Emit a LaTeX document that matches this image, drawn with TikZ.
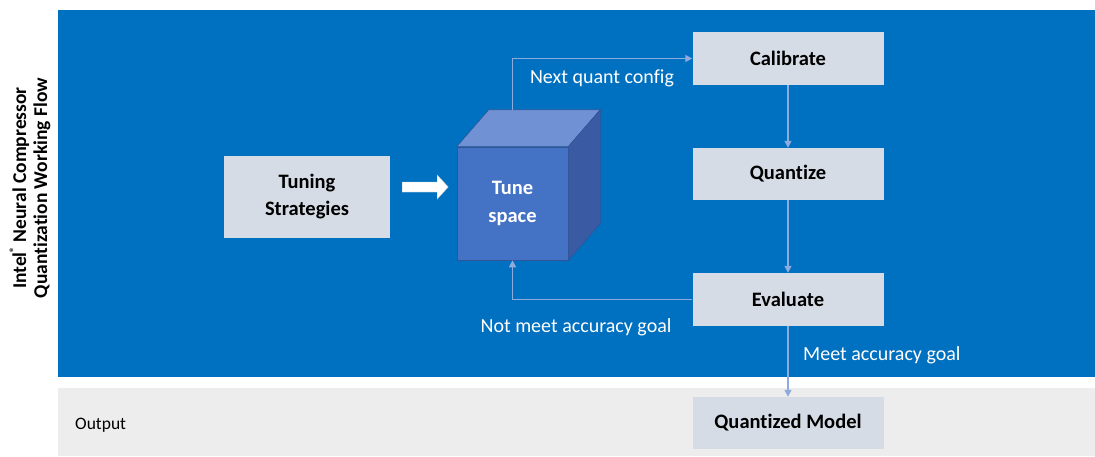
\documentclass[tikz,border=0pt]{standalone}
\usepackage{fontspec}
\setmainfont[Ligatures=NoCommon]{Carlito}
\usetikzlibrary{arrows.meta}

\definecolor{panelblue}{HTML}{0070C0}
\definecolor{outgray}{HTML}{EDEDED}
\definecolor{boxfill}{HTML}{D6DCE5}
\definecolor{linkblue}{HTML}{8FAADC}
\definecolor{cubefront}{HTML}{4472C4}
\definecolor{cubetop}{HTML}{7092D4}
\definecolor{cubeside}{HTML}{3A5BA3}
\definecolor{cubeedge}{HTML}{2F5597}

\tikzset{
  stepbox/.style={draw=none, fill=boxfill, inner sep=0pt, align=center,
    font=\fontsize{20.5}{27}\selectfont\bfseries, text=black},
  link/.style={draw=linkblue, line width=1.5pt,
    -{Triangle[length=7pt,width=7pt]}},
  linklabel/.style={font=\fontsize{20}{24}\selectfont, text=white, inner sep=0pt},
}

\begin{document}
\begin{tikzpicture}[x=1pt, y=-1pt]
  \useasboundingbox (0,0) rectangle (1095,456);

  % background bands
  \fill[panelblue] (58,10) rectangle (1095,377);
  \fill[outgray] (58,388) rectangle (1095,456);

  % side title
  \node[rotate=90, align=center, inner sep=0pt,
        font=\fontsize{19.5}{21}\selectfont\bfseries] (title) at (30,188)
    {Intel\raisebox{0.45em}{\fontsize{11}{11}\selectfont\textregistered} Neural Compressor\\Quantization Working Flow};

  % output band label
  \node[anchor=west, inner sep=0pt, font=\fontsize{17.5}{21}\selectfont] (outlbl) at (75,425) {Output};

  % boxes
  \node[stepbox, minimum width=166, minimum height=82] (tuning) at (307,197) {Tuning\\Strategies};
  \node[stepbox, minimum width=191, minimum height=53] (calib) at (788,58.5) {Calibrate};
  \node[stepbox, minimum width=191, minimum height=52] (quant) at (788,174) {Quantize};
  \node[stepbox, minimum width=191, minimum height=53] (eval) at (788,299.5) {Evaluate};
  \node[stepbox, minimum width=191, minimum height=52] (qmodel) at (788,423) {Quantized Model};

  % tune space cube
  \node[fill=cubefront, draw=cubeedge, line width=0.6pt, minimum width=111, minimum height=113,
        inner sep=0pt, align=center, text=white,
        font=\fontsize{20.5}{28}\selectfont\bfseries] (cube) at (512.5,203.5) {Tune\\space};
  \filldraw[fill=cubetop, draw=cubeedge, line width=0.6pt, line join=round]
    (cube.north west) -- ++(32,-37) -- ([shift={(32,-37)}]cube.north east)
    -- (cube.north east) -- cycle;
  \filldraw[fill=cubeside, draw=cubeedge, line width=0.6pt, line join=round]
    (cube.north east) -- ([shift={(32,-37)}]cube.north east)
    -- ([shift={(32,-37)}]cube.south east) -- (cube.south east) -- cycle;
  \coordinate (cubeback) at ([yshift=37pt]cube.north);

  % strategy feed arrow
  \fill[white, draw=gray!40, line width=0.4pt]
    ([xshift=12pt,yshift=5pt]tuning.east) -- ++(35,0) -- ++(0,7) -- ++(11,-12)
    -- ++(-11,-12) -- ++(0,7) -- ++(-35,0) -- cycle;

  % connectors
  \draw[link] (cubeback) |- (calib.west);
  \draw[link] (calib.south) -- (quant.north);
  \draw[link] (quant.south) -- (eval.north);
  \draw[link] (eval.west) -| (cube.south);
  \draw[link] (eval.south) -- (qmodel.north);

  % connector labels
  \node[linklabel] (lnext) at (602,78) {Next quant config};
  \node[linklabel] (lnot) at (576,327) {Not meet accuracy goal};
  \node[linklabel, anchor=west] (lmeet) at (803,355) {Meet accuracy goal};
\end{tikzpicture}
\end{document}
